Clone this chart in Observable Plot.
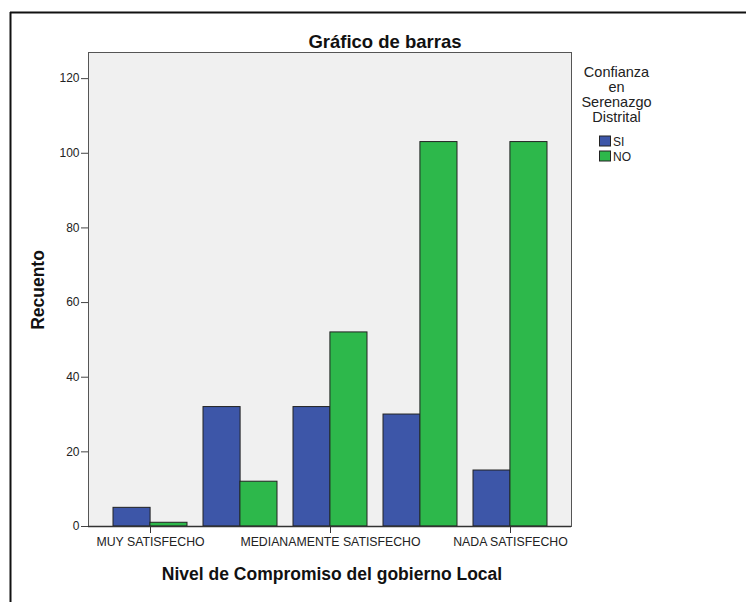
<!DOCTYPE html>
<html>
<head>
<meta charset="utf-8">
<script src="https://cdn.jsdelivr.net/npm/d3@7"></script>
<script src="https://cdn.jsdelivr.net/npm/@observablehq/plot@0.6"></script>
<style>
  html, body { margin: 0; padding: 0; background: #fff; }
  #chart svg { display: block; }
</style>
</head>
<body>
<div id="chart"></div>
<script>
const categories = ["MUY SATISFECHO", "SATISFECHO", "MEDIANAMENTE SATISFECHO", "POCO SATISFECHO", "NADA SATISFECHO"];
const series = ["SI", "NO"];
const siValues = [5, 32, 32, 30, 15];
const noValues = [1, 12, 52, 103, 103];
const yTicks = [0, 20, 40, 60, 80, 100, 120];
const shownLabels = ["MUY SATISFECHO", "MEDIANAMENTE SATISFECHO", "NADA SATISFECHO"];
const colors = ["#3d56a8", "#2db84b"];
const titleText = "Gráfico de barras";
const xLabel = "Nivel de Compromiso del gobierno Local";
const yLabel = "Recuento";
const legendTitle = ["Confianza", "en", "Serenazgo", "Distrital"];

const siData = categories.map((c, i) => ({cat: c, serie: "SI", n: siValues[i]}));
const noData = categories.map((c, i) => ({cat: c, serie: "NO", n: noValues[i]}));

const font = "'Liberation Sans', Arial, sans-serif";
const W = 746, H = 602, mL = 88, mR = 175, mT = 52, mB = 76;

const xOpts = {domain: categories, paddingInner: 0.18, paddingOuter: 0.273};
const xScale = Plot.scale({x: {type: "band", ...xOpts, range: [mL, W - mR]}});
const half = xScale.bandwidth / 2;

const chart = Plot.plot({
  width: W,
  height: H,
  marginLeft: mL,
  marginRight: mR,
  marginTop: mT,
  marginBottom: mB,
  style: {fontFamily: font, fontSize: "12px", color: "#222", background: "transparent", overflow: "visible"},
  x: {type: "band", ...xOpts, label: null},
  y: {domain: [0, 127], label: null},
  color: {domain: series, range: colors},
  marks: [
    Plot.frame({fill: "#f0f0f0", stroke: "#555"}),
    Plot.barY(siData, {x: "cat", y: "n", fill: "serie", stroke: "#222", strokeWidth: 1, insetRight: half}),
    Plot.barY(noData, {x: "cat", y: "n", fill: "serie", stroke: "#222", strokeWidth: 1, insetLeft: half}),
    Plot.ruleY([0], {stroke: "#333", strokeWidth: 1.5}),
    Plot.axisY({ticks: yTicks, tickSize: 7, tickPadding: 2, stroke: "#444", fill: "#222", fontSize: 12, label: null}),
    Plot.axisX({anchor: "bottom", ticks: shownLabels, tickSize: 7, tickPadding: 4, stroke: "#333", fill: "#222", fontSize: 12.3, label: null})
  ]
});

document.getElementById("chart").appendChild(chart);

const svg = d3.select(chart);
const color = chart.scale("color");

// outer frame (top and left edges)
svg.append("line").attr("x1", 10).attr("x2", 746).attr("y1", 12.5).attr("y2", 12.5)
  .attr("stroke", "#111").attr("stroke-width", 2);
svg.append("line").attr("x1", 10.5).attr("x2", 10.5).attr("y1", 12).attr("y2", 602)
  .attr("stroke", "#111").attr("stroke-width", 2);

// title
svg.append("text").attr("x", 385).attr("y", 47.5).attr("text-anchor", "middle")
  .attr("font-family", font).attr("font-weight", "bold").attr("font-size", 18.5)
  .attr("fill", "#111").text(titleText);

// x label
svg.append("text").attr("x", 332).attr("y", 580).attr("text-anchor", "middle")
  .attr("font-family", font).attr("font-weight", "bold").attr("font-size", 17.5)
  .attr("fill", "#111").text(xLabel);

// y label
svg.append("text").attr("transform", "translate(44,290) rotate(-90)").attr("text-anchor", "middle")
  .attr("font-family", font).attr("font-weight", "bold").attr("font-size", 17.5)
  .attr("fill", "#111").text(yLabel);

// legend
const lg = svg.append("g").attr("font-family", font).attr("fill", "#222");
legendTitle.forEach((t, i) => {
  lg.append("text").attr("x", 616.5).attr("y", 77 + i * 15).attr("text-anchor", "middle")
    .attr("font-size", 14.5).text(t);
});
series.forEach((s, i) => {
  const y0 = 135.5 + i * 15;
  lg.append("rect").attr("x", 599.5).attr("y", y0 + 0.5).attr("width", 11).attr("height", 10)
    .attr("fill", color.apply(s)).attr("stroke", "#222").attr("stroke-width", 1);
  lg.append("text").attr("x", 613).attr("y", y0 + 10).attr("text-anchor", "start")
    .attr("font-size", 12).text(s);
});
</script>
</body>
</html>
